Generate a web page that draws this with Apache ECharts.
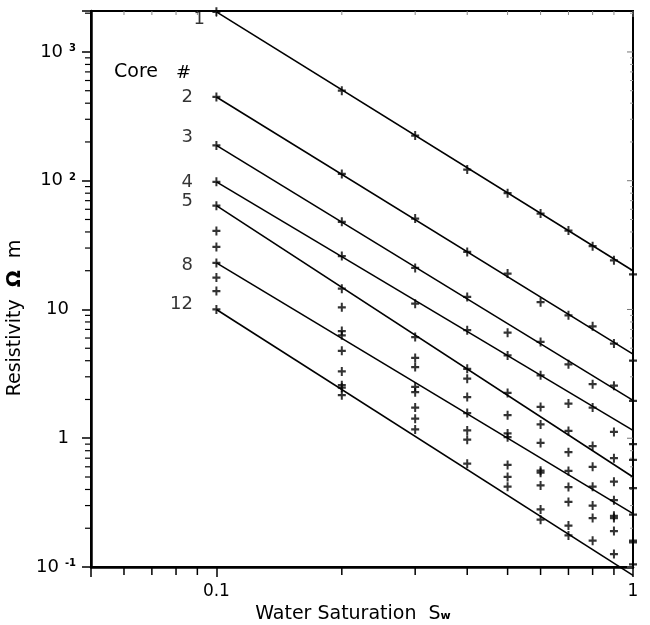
<!DOCTYPE html>
<html><head><meta charset="utf-8">
<script src="https://cdn.jsdelivr.net/npm/echarts@6/dist/echarts.min.js"></script>
<style>html,body{margin:0;padding:0;background:#fff}#c{width:650px;height:625px}</style>
</head><body><div id="c"></div>
<script>
// ---- data ----
const satLevels = [0.1, 0.2, 0.3, 0.4, 0.5, 0.6, 0.7, 0.8, 0.9, 1.0];
const resAt01 = [2050, 447, 188, 98, 64, 40.7, 30.6, 23, 17.7, 13.9, 10];
const resAt02 = [500, 113, 48, 26, 14.5, 10.4, 6.8, 6.3, 4.77, 3.3, 2.58, 2.47, 2.16];
const resAt03 = [224, 50.8, 21, 11.1, 6.1, 4.2, 3.57, 2.5, 2.28, 1.73, 1.42, 1.17];
const resAt04 = [122, 28, 12.5, 6.9, 3.46, 2.9, 2.09, 1.57, 1.15, 0.975, 0.635];
const resAt05 = [80, 19, 6.6, 4.4, 2.25, 1.51, 1.09, 1.02, 0.62, 0.50, 0.42];
const resAt06 = [55.6, 11.4, 5.6, 3.08, 1.75, 1.28, 0.92, 0.56, 0.54, 0.43, 0.28, 0.233];
const resAt07 = [41, 9.0, 3.75, 1.86, 1.14, 0.78, 0.557, 0.418, 0.32, 0.21, 0.176];
const resAt08 = [31, 7.4, 2.63, 1.73, 0.87, 0.60, 0.42, 0.30, 0.24, 0.16];
const resAt09 = [24.1, 5.43, 2.56, 1.12, 0.70, 0.46, 0.33, 0.25, 0.24, 0.19, 0.126];
const resAt10 = [18.7, 4.0, 1.95, 0.90, 0.68, 0.41, 0.255, 0.16, 0.155, 0.105];
const measuredColumns = [resAt01, resAt02, resAt03, resAt04, resAt05, resAt06, resAt07, resAt08, resAt09, resAt10];

const coreLabels = ['1', '2', '3', '4', '5', '8', '12'];
const fitAtSw01 = [2050, 447, 188, 98, 64, 23, 10];
const fitAtSw1 = [20, 4.5, 1.97, 1.15, 0.5, 0.26, 0.086];

const xMajorTicks = [0.1, 1];
const xTickLabels = ['0.1', '1'];
const xMinorTicks = [0.06, 0.07, 0.08, 0.09, 0.2, 0.3, 0.4, 0.5, 0.6, 0.7, 0.8, 0.9];
const yMajorTicks = [0.1, 1, 10, 100, 1000];
const yTickLabels = ['10^-1', '1', '10', '10^2', '10^3'];
const yMinorTicks = [0.2, 0.3, 0.4, 0.5, 0.6, 0.7, 0.8, 0.9, 2, 3, 4, 5, 6, 7, 8, 9,
  20, 30, 40, 50, 60, 70, 80, 90, 200, 300, 400, 500, 600, 700, 800, 900, 2000];

const X_MIN = 0.05, X_MAX = 1, Y_MIN = 0.1, Y_MAX = 2080;

// ---- chart ----
const FONT = 'DejaVu Sans';
const plusPath = 'path://M3,0H5V3H8V5H5V8H3V5H0V3H3Z';
// label placement per core (style only)
const labelNudge = {
  '1': { distance: 11, offset: [0, 8] },
  '2': { distance: 23, offset: [0, 0] },
  '3': { distance: 23, offset: [0, -8] },
  '4': { distance: 23, offset: [0, 0] },
  '5': { distance: 23, offset: [0, -4] },
  '8': { distance: 23, offset: [0, 2] },
  '12': { distance: 23, offset: [0, -5] }
};

function findIdx(arr, v) {
  return arr.findIndex(t => Math.abs(Math.log10(t) - Math.log10(v)) < 1e-6);
}

const measured = [];
satLevels.forEach((sw, i) => measuredColumns[i].forEach(r => measured.push([sw, r])));

const series = [];
coreLabels.forEach((c, i) => {
  series.push({
    type: 'line', name: 'Core ' + c, symbol: 'none', clip: false, silent: true,
    lineStyle: { color: '#000', width: 1.6 },
    data: [[0.1, fitAtSw01[i]], [1, fitAtSw1[i]]]
  });
});
series.push({
  type: 'scatter', name: 'measured', symbol: plusPath, symbolSize: [8, 9],
  itemStyle: { color: '#000' }, silent: true, data: measured
});
series.push({
  type: 'scatter', name: 'labels', symbol: 'circle', symbolSize: 1, silent: true,
  itemStyle: { color: 'rgba(0,0,0,0)' },
  data: coreLabels.map((c, i) => ({
    value: [0.1, fitAtSw01[i]],
    label: {
      show: true, formatter: c, position: 'left',
      distance: labelNudge[c].distance, offset: labelNudge[c].offset,
      fontFamily: FONT, fontSize: 18, color: '#000'
    }
  }))
});
// minor ticks on bottom (outside) and top (inside)
series.push({
  type: 'custom', coordinateSystem: 'cartesian2d', clip: false, silent: true,
  data: xMinorTicks.map(v => [v, Y_MIN]),
  renderItem(params, api) {
    const p = api.coord([api.value(0), Y_MIN]);
    const q = api.coord([api.value(0), Y_MAX]);
    return { type: 'group', children: [
      { type: 'line', shape: { x1: p[0], y1: p[1], x2: p[0], y2: p[1] + 8 }, style: { stroke: '#000', lineWidth: 1.5 } },
      { type: 'line', shape: { x1: q[0], y1: q[1], x2: q[0], y2: q[1] + 4 }, style: { stroke: '#888', lineWidth: 1 } }
    ]};
  }
});
series.push({
  type: 'custom', coordinateSystem: 'cartesian2d', clip: false, silent: true,
  data: xMajorTicks.map(v => [v, Y_MAX]),
  renderItem(params, api) {
    const q = api.coord([api.value(0), Y_MAX]);
    return { type: 'line', shape: { x1: q[0], y1: q[1], x2: q[0], y2: q[1] + 6 }, style: { stroke: '#777', lineWidth: 1 } };
  }
});
// minor ticks on left (outside) and right (inside)
series.push({
  type: 'custom', coordinateSystem: 'cartesian2d', clip: false, silent: true,
  data: yMinorTicks.map(v => [X_MIN, v]),
  renderItem(params, api) {
    const p = api.coord([X_MIN, api.value(1)]);
    const q = api.coord([X_MAX, api.value(1)]);
    return { type: 'group', children: [
      { type: 'line', shape: { x1: p[0], y1: p[1], x2: p[0] - 6, y2: p[1] }, style: { stroke: '#000', lineWidth: 1.2 } },
      { type: 'line', shape: { x1: q[0], y1: q[1], x2: q[0] - 3, y2: q[1] }, style: { stroke: '#999', lineWidth: 1 } }
    ]};
  }
});
series.push({
  type: 'custom', coordinateSystem: 'cartesian2d', clip: false, silent: true,
  data: yMajorTicks.map(v => [X_MAX, v]),
  renderItem(params, api) {
    const q = api.coord([X_MAX, api.value(1)]);
    return { type: 'line', shape: { x1: q[0], y1: q[1], x2: q[0] - 6, y2: q[1] }, style: { stroke: '#777', lineWidth: 1 } };
  }
});

const chart = echarts.init(document.getElementById('c'), null, { renderer: 'canvas' });
chart.setOption({
  animation: false,
  backgroundColor: '#fff',
  textStyle: { fontFamily: FONT },
  grid: { left: 91, right: 17, top: 11, bottom: 58, show: true, borderColor: '#000', borderWidth: 2, outerBoundsMode: 'none' },
  xAxis: {
    type: 'log', logBase: 10, min: X_MIN, max: X_MAX,
    name: '{a|Water Saturation  S}{w|w}', nameLocation: 'middle', nameGap: 21,
    nameTextStyle: {
      padding: [0, 18, 0, 0],
      rich: {
        a: { fontFamily: FONT, fontSize: 19, color: '#000', padding: [0, 0, 3, 0] },
        w: { fontFamily: FONT, fontSize: 11, color: '#000', fontWeight: 'bold' }
      }
    },
    axisLine: { lineStyle: { color: '#000', width: 2.5 } },
    axisTick: { show: true, inside: false, length: 10, lineStyle: { color: '#000', width: 1.5 } },
    splitLine: { show: false },
    axisLabel: {
      margin: 16, fontFamily: FONT, fontSize: 17, color: '#000',
      formatter: v => { const k = findIdx(xMajorTicks, v); return k < 0 ? '' : xTickLabels[k]; }
    }
  },
  yAxis: {
    type: 'log', logBase: 10, min: Y_MIN, max: Y_MAX,
    name: '{a|Resistivity  }{o|Ω}{a|  m}', nameLocation: 'middle', nameGap: 60,
    nameTextStyle: {
      padding: [0, 58, 0, 0],
      rich: {
        a: { fontFamily: FONT, fontSize: 19, color: '#000' },
        o: { fontFamily: FONT, fontSize: 20, color: '#000', fontWeight: 'bold' }
      }
    },
    axisLine: { lineStyle: { color: '#000', width: 2.5 } },
    axisTick: { show: true, inside: false, length: 9, lineStyle: { color: '#000', width: 1.5 } },
    splitLine: { show: false },
    axisLabel: {
      margin: 15, fontFamily: FONT, fontSize: 18, color: '#000',
      formatter: v => {
        const k = findIdx(yMajorTicks, v);
        if (k < 0) return '';
        const parts = yTickLabels[k].split('^');
        if (parts.length === 2) return '{b|' + parts[0] + '}{s|' + parts[1] + '}';
        return '{p|' + parts[0] + '}';
      },
      rich: {
        b: { fontFamily: FONT, fontSize: 18, color: '#000' },
        s: { fontFamily: FONT, fontSize: 10, color: '#000', fontWeight: 'bold', padding: [0, 0, 7, 6] },
        p: { fontFamily: FONT, fontSize: 18, color: '#000', padding: [0, 7, 0, 0] }
      }
    }
  },
  graphic: [
    { type: 'text', left: 114, top: 63, style: { text: 'Core', fontFamily: FONT, fontSize: 19, fill: '#000' } },
    { type: 'text', left: 176, top: 64, style: { text: '#', fontFamily: FONT, fontSize: 18, fill: '#000' } }
  ],
  series: series
});
</script></body></html>
